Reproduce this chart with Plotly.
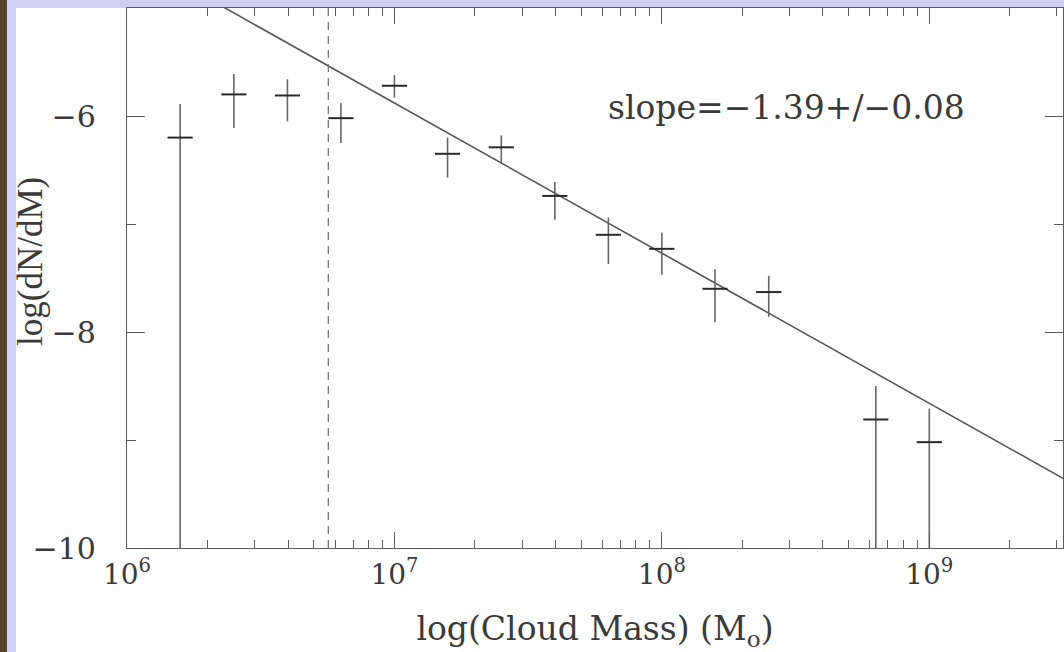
import plotly.graph_objects as go
import numpy as np

# ---- data ----
cloud_mass = [1.58e6, 2.51e6, 3.98e6, 6.31e6, 1.0e7, 1.58e7, 2.51e7, 3.98e7,
              6.31e7, 1.0e8, 1.58e8, 2.51e8, 6.31e8, 1.0e9]
log_dndm = [-6.20, -5.80, -5.81, -6.02, -5.72, -6.35, -6.29, -6.74,
            -7.10, -7.23, -7.60, -7.63, -8.81, -9.02]
err_plus = [0.31, 0.19, 0.15, 0.14, 0.10, 0.15, 0.11, 0.13,
            0.16, 0.15, 0.18, 0.15, 0.31, 0.31]
err_minus = [3.80, 0.31, 0.24, 0.23, 0.11, 0.22, 0.15, 0.22,
             0.27, 0.24, 0.31, 0.23, 1.19, 0.98]

fit_slope = -1.39
fit_intercept_at_1e6 = -4.49
fit_mass = [1e6, 10 ** 9.5]
completeness_mass = 5.66e6

x_tickvals = [1e6, 1e7, 1e8, 1e9]
x_ticktext = ["10<sup>6</sup>", "10<sup>7</sup>", "10<sup>8</sup>", "10<sup>9</sup>"]
y_tickvals = [-10, -8, -6]
y_ticktext = ["\u221210", "\u22128", "\u22126"]

# ---- figure geometry ----
W, H = 1064, 652
ML, MR, MT, MB = 127, 1, 8, 104
PW, PH = W - ML - MR, H - MT - MB


def px(xp):
    return (xp - ML) / PW


def py(yp):
    return (H - MB - yp) / PH


fit_y = [fit_intercept_at_1e6 + fit_slope * (np.log10(m) - 6) for m in fit_mass]

axis_col = "#5a5a5a"
ink = "#2a2a2a"
text_col = "#3a3a3a"

fig = go.Figure()

fig.add_trace(go.Scatter(
    x=fit_mass, y=fit_y, mode="lines",
    line=dict(color="#555555", width=1.6), hoverinfo="skip", showlegend=False))

fig.add_trace(go.Scatter(
    x=[completeness_mass, completeness_mass], y=[-10, -5], mode="lines",
    line=dict(color="#777777", width=1.3, dash="8px,6px"), hoverinfo="skip",
    showlegend=False))

fig.add_trace(go.Scatter(
    x=cloud_mass, y=log_dndm, mode="markers",
    marker=dict(symbol="line-ew", size=18, line=dict(color=ink, width=2)),
    error_y=dict(type="data", symmetric=False, array=err_plus, arrayminus=err_minus,
                 width=0, thickness=1.6, color="#666666"),
    showlegend=False))

fig.add_annotation(
    x=px(606), y=py(107), xref="paper", yref="paper",
    text="slope=\u22121.39+/\u22120.08", showarrow=False,
    font=dict(family="DejaVu Serif", size=33, color=text_col),
    xanchor="left", yanchor="middle")

# y-axis title placed as in the reference (overlapping the tick-label column)
fig.add_annotation(
    x=px(30), y=py(262), xref="paper", yref="paper",
    text="log(dN/dM)", showarrow=False, textangle=-90,
    font=dict(family="Liberation Serif", size=35, color=text_col),
    xanchor="center", yanchor="middle")

# background decorations (page border of the scanned slide)
shapes = [
    dict(type="rect", xref="paper", yref="paper", x0=px(0), x1=px(W), y0=py(0), y1=py(8),
         fillcolor="#cfd0f6", line=dict(width=0), layer="below"),
    dict(type="rect", xref="paper", yref="paper", x0=px(0), x1=px(16), y0=py(0), y1=py(H),
         fillcolor="#cfd0f6", line=dict(width=0), layer="below"),
    dict(type="rect", xref="paper", yref="paper", x0=px(0), x1=px(7), y0=py(0), y1=py(H),
         fillcolor="#54442a", line=dict(width=0), layer="below"),
]

fig.update_layout(
    width=W, height=H,
    margin=dict(l=ML, r=MR, t=MT, b=MB),
    paper_bgcolor="white", plot_bgcolor="white",
    shapes=shapes,
    xaxis=dict(
        type="log", range=[6, 9.5],
        tickvals=x_tickvals, ticktext=x_ticktext,
        ticks="inside", ticklen=16, tickwidth=1.2, tickcolor=axis_col,
        minor=dict(ticks="inside", ticklen=8, tickwidth=1.1, tickcolor=axis_col,
                   dtick="D1", showgrid=False),
        showline=True, linecolor=axis_col, linewidth=1.3, mirror="allticks",
        showgrid=False, zeroline=False,
        tickfont=dict(family="DejaVu Serif", size=28, color=text_col),
        ticklabelstandoff=1,
        title=dict(text="log(Cloud Mass) (M<sub>o</sub>)",
                   font=dict(family="DejaVu Serif", size=33, color=text_col),
                   standoff=28),
    ),
    yaxis=dict(
        range=[-10, -5],
        tickvals=y_tickvals, ticktext=y_ticktext,
        ticks="inside", ticklen=18, tickwidth=1.2, tickcolor=axis_col,
        minor=dict(ticks="inside", ticklen=9, tickwidth=1.1, tickcolor=axis_col,
                   tickvals=[-9, -7, -5], showgrid=False),
        showline=True, linecolor=axis_col, linewidth=1.3, mirror="allticks",
        showgrid=False, zeroline=False,
        tickfont=dict(family="DejaVu Serif", size=30, color=text_col),
        ticklabelstandoff=24,
    ),
)

fig.write_html("out.html")
